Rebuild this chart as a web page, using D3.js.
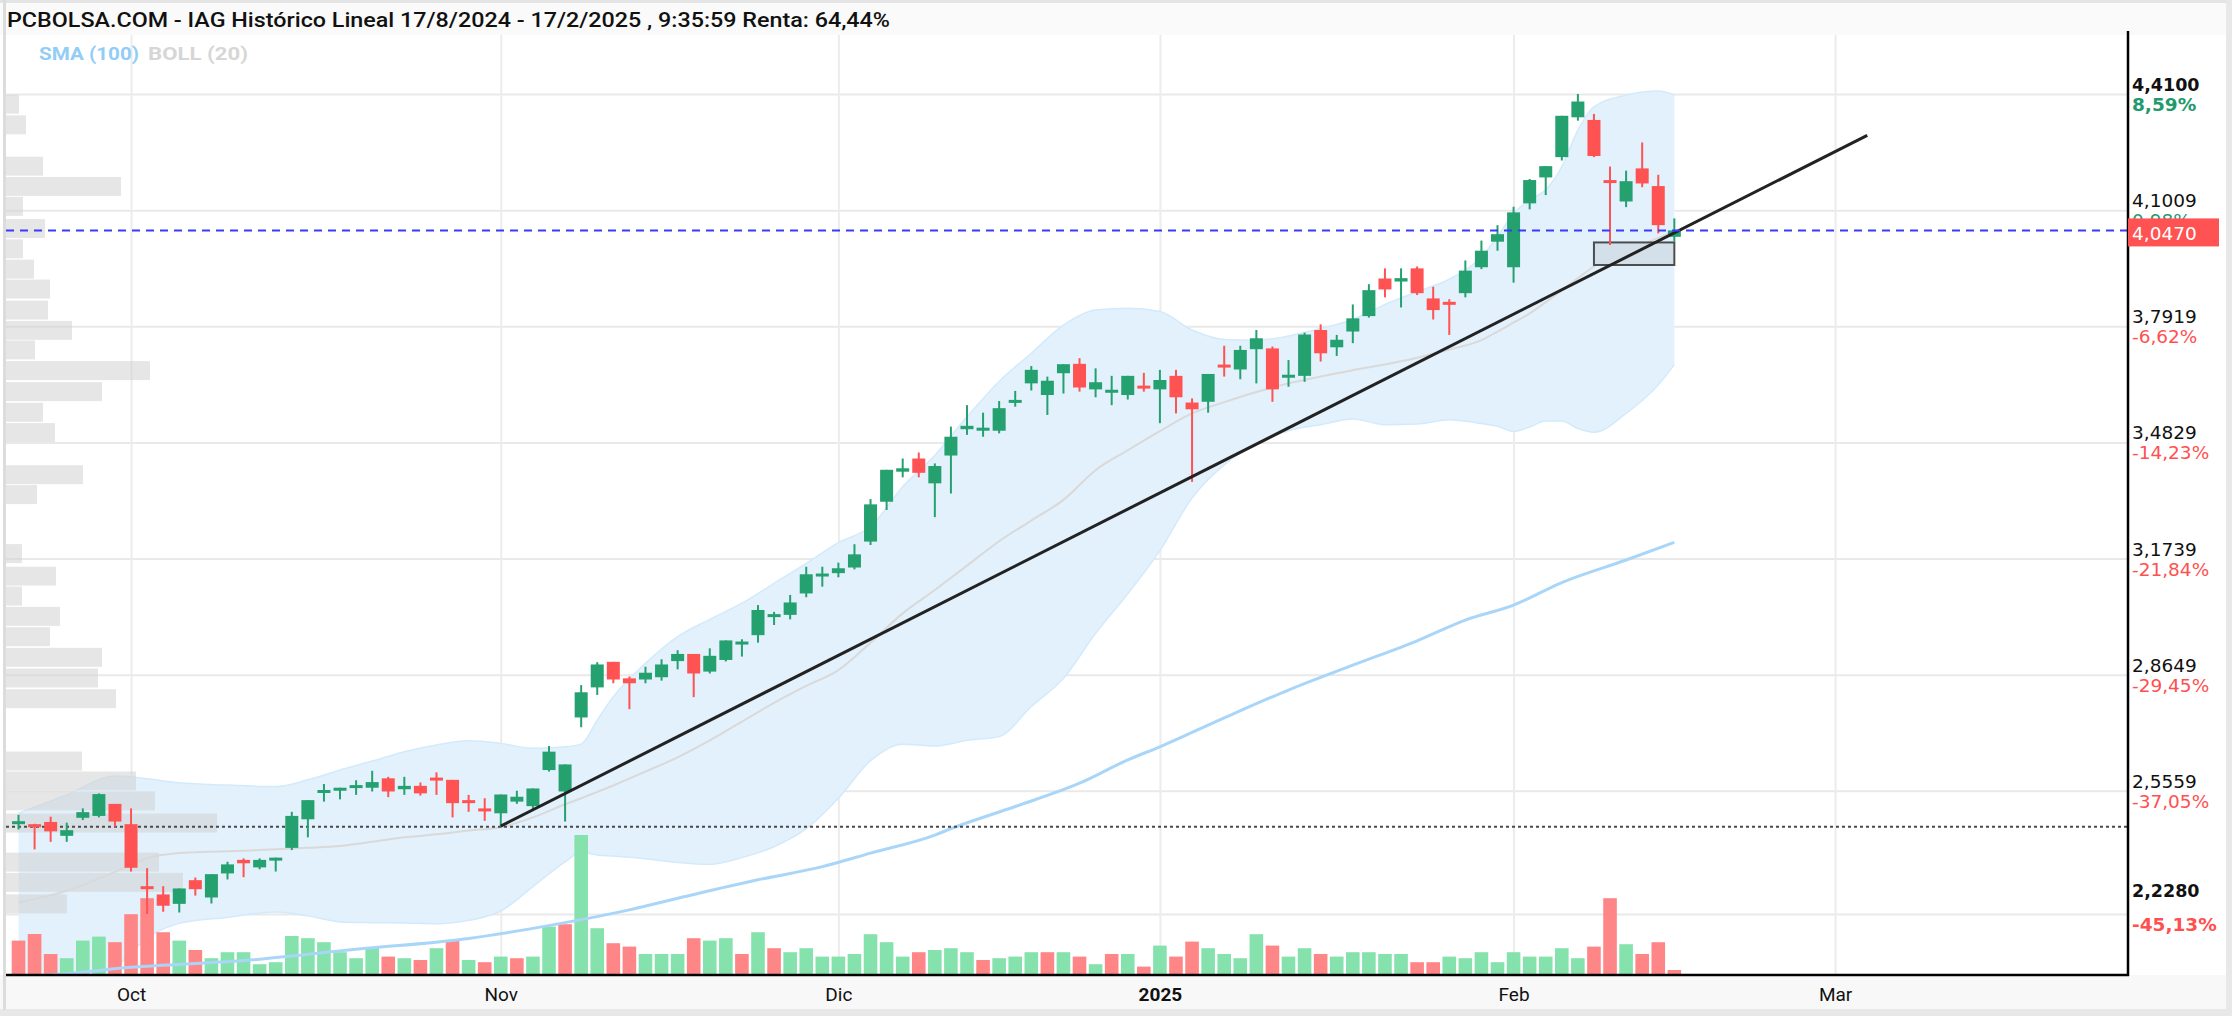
<!DOCTYPE html>
<html>
<head>
<meta charset="utf-8">
<script src="https://cdn.jsdelivr.net/npm/d3@7"></script>
<style>
  body { margin: 0; background: #fff; }
  svg { display: block; }
</style>
</head>
<body>
<div id="chart"></div>
<script>
// trading sessions shown on the chart (one candle each)
var dates = [
  "2024-09-20","2024-09-23","2024-09-24","2024-09-25","2024-09-26","2024-09-27","2024-09-30",
  "2024-10-01","2024-10-02","2024-10-03","2024-10-04","2024-10-07","2024-10-08","2024-10-09","2024-10-10","2024-10-11",
  "2024-10-14","2024-10-15","2024-10-16","2024-10-17","2024-10-18","2024-10-21","2024-10-22","2024-10-23","2024-10-24",
  "2024-10-25","2024-10-28","2024-10-29","2024-10-30","2024-10-31",
  "2024-11-01","2024-11-04","2024-11-05","2024-11-06","2024-11-07","2024-11-08","2024-11-11","2024-11-12","2024-11-13",
  "2024-11-14","2024-11-15","2024-11-18","2024-11-19","2024-11-20","2024-11-21","2024-11-22","2024-11-25","2024-11-26",
  "2024-11-27","2024-11-28","2024-11-29",
  "2024-12-02","2024-12-03","2024-12-04","2024-12-05","2024-12-06","2024-12-09","2024-12-10","2024-12-11","2024-12-12",
  "2024-12-13","2024-12-16","2024-12-17","2024-12-18","2024-12-19","2024-12-20","2024-12-23","2024-12-24","2024-12-27",
  "2024-12-30","2024-12-31",
  "2025-01-02","2025-01-03","2025-01-06","2025-01-07","2025-01-08","2025-01-09","2025-01-10","2025-01-13","2025-01-14",
  "2025-01-15","2025-01-16","2025-01-17","2025-01-20","2025-01-21","2025-01-22","2025-01-23","2025-01-24","2025-01-27",
  "2025-01-28","2025-01-29","2025-01-30","2025-01-31",
  "2025-02-03","2025-02-04","2025-02-05","2025-02-06","2025-02-07","2025-02-10","2025-02-11","2025-02-12","2025-02-13",
  "2025-02-14","2025-02-17"
];

var open = [2.470,2.467,2.473,2.436,2.484,2.489,2.521,2.467,2.302,2.280,2.255,2.318,2.272,2.336,2.372,2.352,2.374,2.404,2.480,2.554,
  2.560,2.565,2.564,2.589,2.560,2.569,2.591,2.585,2.531,2.509,2.496,2.527,2.515,2.611,2.554,2.751,2.831,2.899,2.855,2.852,
  2.858,2.901,2.920,2.873,2.904,2.949,2.970,3.019,3.024,3.081,3.129,3.135,3.150,3.219,3.325,3.405,3.440,3.374,3.448,3.518,
  3.518,3.514,3.590,3.640,3.609,3.667,3.692,3.624,3.620,3.609,3.634,3.624,3.660,3.589,3.591,3.690,3.677,3.731,3.733,3.660,
  3.660,3.782,3.736,3.778,3.819,3.919,3.911,3.946,3.866,3.857,3.880,3.949,4.017,3.949,4.119,4.188,4.242,4.348,4.341,4.181,
  4.124,4.212,4.165,4.030];
var high = [2.492,2.468,2.487,2.471,2.509,2.549,2.521,2.509,2.350,2.302,2.296,2.325,2.334,2.367,2.376,2.376,2.378,2.500,2.531,2.574,
  2.564,2.584,2.609,2.593,2.593,2.578,2.605,2.585,2.545,2.536,2.546,2.556,2.562,2.675,2.626,2.837,2.898,2.899,2.860,2.886,
  2.906,2.930,2.920,2.935,2.956,2.959,3.050,3.032,3.077,3.152,3.152,3.163,3.212,3.332,3.410,3.440,3.456,3.427,3.525,3.582,
  3.562,3.593,3.620,3.686,3.658,3.691,3.707,3.680,3.660,3.660,3.668,3.676,3.676,3.600,3.665,3.740,3.740,3.782,3.738,3.702,
  3.775,3.797,3.769,3.850,3.904,3.946,3.946,3.951,3.897,3.864,3.967,4.020,4.061,4.110,4.184,4.218,4.352,4.410,4.357,4.217,
  4.206,4.281,4.195,4.079];
var low = [2.453,2.400,2.420,2.420,2.478,2.485,2.460,2.341,2.228,2.234,2.232,2.277,2.256,2.320,2.326,2.347,2.341,2.398,2.432,2.527,
  2.533,2.545,2.554,2.539,2.545,2.543,2.545,2.485,2.500,2.476,2.461,2.521,2.507,2.607,2.474,2.725,2.811,2.842,2.773,2.842,
  2.849,2.879,2.805,2.868,2.900,2.913,2.950,2.997,3.012,3.071,3.099,3.124,3.145,3.210,3.303,3.390,3.390,3.284,3.347,3.503,
  3.498,3.507,3.578,3.621,3.556,3.613,3.618,3.603,3.582,3.597,3.618,3.534,3.560,3.378,3.562,3.658,3.651,3.640,3.591,3.631,
  3.644,3.698,3.713,3.747,3.815,3.869,3.842,3.875,3.810,3.769,3.869,3.944,3.993,3.908,4.103,4.141,4.233,4.339,4.242,4.008,
  4.109,4.162,4.039,4.017];
var close = [2.475,2.459,2.448,2.451,2.499,2.547,2.474,2.351,2.294,2.250,2.296,2.294,2.334,2.360,2.363,2.372,2.378,2.489,2.531,2.558,
  2.564,2.571,2.579,2.554,2.569,2.549,2.587,2.523,2.524,2.503,2.546,2.540,2.562,2.660,2.626,2.818,2.892,2.852,2.842,2.870,
  2.892,2.920,2.868,2.915,2.956,2.953,3.037,3.026,3.057,3.132,3.134,3.148,3.185,3.318,3.410,3.414,3.402,3.420,3.498,3.527,
  3.522,3.574,3.596,3.676,3.647,3.691,3.629,3.643,3.623,3.660,3.629,3.649,3.603,3.571,3.665,3.688,3.729,3.760,3.624,3.663,
  3.770,3.720,3.756,3.813,3.888,3.890,3.920,3.880,3.835,3.853,3.940,3.993,4.037,4.095,4.181,4.218,4.352,4.390,4.245,4.174,
  4.178,4.172,4.061,4.047];
var closeBefore = 2.49; // close of the session before the first candle

// volume, millions of shares
var volume = [17.2,20.5,10.5,8.4,17.2,19.2,16.4,30.4,38.4,21.4,17.2,12.5,8.4,11.4,11.4,5.4,6.4,19.5,18.4,16.4,
  11.4,8.4,13.9,9.2,8.4,7.5,13.4,17.2,7.5,6.4,9.2,8.4,9.2,24.2,25.4,70.0,23.4,15.9,14.2,10.5,
  10.5,10.5,18.4,17.2,18.4,10.5,21.4,13.4,11.4,13.4,9.2,9.2,10.5,20.4,16.4,9.2,11.4,12.5,13.4,11.4,
  7.5,8.4,9.2,11.4,11.4,11.4,9.2,5.4,10.5,10.5,4.2,14.7,9.2,16.7,13.4,10.5,8.4,20.4,14.7,9.2,
  13.4,10.5,9.2,11.4,11.4,10.5,10.5,6.4,6.4,9.2,8.4,11.4,6.4,11.4,9.2,9.2,13.4,8.4,14.2,38.4,
  15.4,10.5,16.4,2.5];

// bollinger (20)
var bbIdx = [0,3,6,8,10,13,16,18,20,22,24,26,28,30,32,34,35,36,37,39,41,43,45,47,49,51,53,55,57,59,61,63,65,
  67,69,71,73,75,77,79,81,83,85,87,89,91,92,93,94,95,96,97,98,100,102,103];
var bbUpper = [2.496,2.545,2.595,2.588,2.577,2.571,2.567,2.585,2.611,2.635,2.660,2.678,2.689,2.682,2.669,2.673,2.680,2.744,
  2.806,2.895,2.966,3.012,3.055,3.108,3.161,3.216,3.259,3.365,3.449,3.551,3.645,3.720,3.795,3.835,3.840,3.831,3.782,
  3.757,3.755,3.766,3.786,3.810,3.850,3.884,3.917,3.977,4.030,4.092,4.128,4.155,4.217,4.314,4.376,4.407,4.418,4.407];
var bbLower = [2.020,2.035,2.085,2.164,2.203,2.219,2.233,2.223,2.207,2.205,2.204,2.202,2.211,2.236,2.301,2.367,2.392,2.385,
  2.382,2.375,2.365,2.360,2.378,2.407,2.455,2.536,2.636,2.680,2.675,2.690,2.700,2.780,2.855,2.975,3.080,3.195,3.335,
  3.423,3.479,3.514,3.530,3.545,3.530,3.532,3.543,3.533,3.526,3.512,3.524,3.540,3.540,3.520,3.510,3.560,3.636,3.690];
var bbMid = [2.258,2.290,2.340,2.376,2.390,2.395,2.400,2.404,2.409,2.420,2.432,2.440,2.450,2.459,2.485,2.520,2.536,2.553,
  2.570,2.607,2.645,2.690,2.740,2.790,2.835,2.877,2.950,3.028,3.090,3.155,3.220,3.275,3.330,3.409,3.462,3.513,3.560,
  3.590,3.617,3.640,3.658,3.675,3.690,3.708,3.730,3.755,3.778,3.802,3.826,3.856,3.888,3.920,3.951,3.990,4.027,4.044];

// SMA (100)
var smaIdx = [0,2,7,14,21,28,34,38,42,46,50,53,57,58,62,66,69,71,75,79,83,87,90,93,96,100,103];
var smaVal = [2.062,2.066,2.086,2.104,2.134,2.163,2.205,2.239,2.280,2.319,2.354,2.390,2.438,2.455,2.514,2.576,2.638,2.673,
  2.750,2.824,2.890,2.955,3.010,3.050,3.110,3.170,3.217];

// volume by price (left side histogram)
var vpPrice = [4.383,4.328,4.218,4.164,4.111,4.052,3.998,3.944,3.891,3.835,3.781,3.729,3.674,3.618,3.563,3.509,3.397,3.344,
  3.187,3.127,3.074,3.020,2.966,2.911,2.856,2.801,2.635,2.582,2.529,2.470,2.366,2.312,2.255];
var vpVolume = [6.5,10,18.5,57.5,8.5,19.5,8.5,14,22,21,33,14.5,72,48,18.5,24.5,38.5,15.5,
  8,25,8,27,22,48,46,55,38,65,74.5,105.5,76.5,88.5,30.5];

var yTicks = [4.41, 4.1009, 3.7919, 3.4829, 3.1739, 2.8649, 2.5559, 2.228];
var yTickLabels = ["4,4100","4,1009","3,7919","3,4829","3,1739","2,8649","2,5559","2,2280"];
var yPctLabels = ["8,59%","0,98%","-6,62%","-14,23%","-21,84%","-29,45%","-37,05%","-45,13%"];

var monthIdx = [7, 30, 51, 71, 93, 113];
var monthLabels = ["Oct", "Nov", "Dic", "2025", "Feb", "Mar"];

var lastPrice = 4.047;
var lastLabel = "4,0470";
var supportLevel = 2.46;
var trendIdx = [30, 115];
var trendPrice = [2.462, 4.30];
var boxIdx = [98, 103];
var boxPrice = [3.955, 4.015];

var titleText = "PCBOLSA.COM - IAG Histórico Lineal 17/8/2024 - 17/2/2025 , 9:35:59 Renta: 64,44%";
var legendLabels = ["SMA (100)", "BOLL (20)"];

var dimensions = {
  width: 2232,
  height: 1016,
  plot: { left: 6, right: 2128, top: 35, bottom: 975 }
};
var plot = dimensions.plot;

var colUp = "#25a06f", colDown = "#ff5252";
var volUp = "#80e0a8", volDown = "#ff8080";

var svg = d3.select("#chart")
  .append("svg")
  .attr("width", dimensions.width)
  .attr("height", dimensions.height)
  .style("font-family", "Roboto, 'DejaVu Sans', sans-serif");

// scales: x is trading-session index
var xScale = d3.scaleLinear().domain([-0.778, 131.22]).range([plot.left, plot.right]);
var yScale = d3.scaleLinear().domain([2.228, 4.41]).range([914, 94]);
var vScale = d3.scaleLinear().domain([0, 75]).range([plot.bottom, plot.bottom - 150]);
var vpScale = d3.scaleLinear().domain([0, 110]).range([0, 220]);

// frame
svg.append("rect").attr("x", 0).attr("y", 0).attr("width", dimensions.width).attr("height", dimensions.height).attr("fill", "#fff");
svg.append("rect").attr("x", 0).attr("y", 0).attr("width", dimensions.width).attr("height", plot.top).attr("fill", "#fafafa");
svg.append("rect").attr("x", 0).attr("y", 0).attr("width", dimensions.width).attr("height", 3).attr("fill", "#e4e4e4");
svg.append("rect").attr("x", 0).attr("y", plot.bottom).attr("width", dimensions.width).attr("height", dimensions.height - plot.bottom).attr("fill", "#f8f8f8");
svg.append("rect").attr("x", 0).attr("y", 1009).attr("width", dimensions.width).attr("height", 7).attr("fill", "#e8e8e8");
svg.append("rect").attr("x", 3).attr("y", 0).attr("width", 3).attr("height", 1010).attr("fill", "#dcdcdc");
svg.append("rect").attr("x", 2226).attr("y", 0).attr("width", 6).attr("height", dimensions.height).attr("fill", "#e8e8e8");

svg.append("defs").append("clipPath").attr("id", "clip")
  .append("rect")
  .attr("x", plot.left).attr("y", plot.top)
  .attr("width", plot.right - plot.left).attr("height", plot.bottom - plot.top);

// gridlines
var grid = svg.append("g");
grid.append("g")
  .attr("transform", `translate(${plot.right},0)`)
  .call(d3.axisRight(yScale).tickValues(yTicks).tickSize(-(plot.right - plot.left)).tickFormat(""))
  .call(g => g.select(".domain").remove())
  .call(g => g.selectAll("line").attr("stroke", "#e9e9e9").attr("stroke-width", 2));
grid.append("g")
  .attr("transform", `translate(0,${plot.bottom})`)
  .call(d3.axisBottom(xScale).tickValues(monthIdx).tickSize(-(plot.bottom - plot.top)).tickFormat(""))
  .call(g => g.select(".domain").remove())
  .call(g => g.selectAll("line").attr("stroke", "#ececec").attr("stroke-width", 2));

var chart = svg.append("g").attr("clip-path", "url(#clip)");

// bollinger band
var bb = bbIdx.map((d, i) => ({ i: d, up: bbUpper[i], lo: bbLower[i], mid: bbMid[i] }));
chart.append("path")
  .datum(bb)
  .attr("d", d3.area().curve(d3.curveMonotoneX).x(d => xScale(d.i)).y0(d => yScale(d.lo)).y1(d => yScale(d.up)))
  .attr("fill", "#e2f1fc");
chart.append("path")
  .datum(bb)
  .attr("d", d3.line().curve(d3.curveMonotoneX).x(d => xScale(d.i)).y(d => yScale(d.up)))
  .attr("fill", "none").attr("stroke", "#d3eafb").attr("stroke-width", 1.5);
chart.append("path")
  .datum(bb)
  .attr("d", d3.line().curve(d3.curveMonotoneX).x(d => xScale(d.i)).y(d => yScale(d.lo)))
  .attr("fill", "none").attr("stroke", "#d3eafb").attr("stroke-width", 1.5);

// volume profile
var vpBin = 0.0505;
chart.selectAll("rect.vp")
  .data(vpPrice)
  .enter()
  .append("rect")
  .attr("class", "vp")
  .attr("x", plot.left)
  .attr("y", d => yScale(d + vpBin / 2))
  .attr("width", (d, i) => vpScale(vpVolume[i]))
  .attr("height", d => yScale(d - vpBin / 2) - yScale(d + vpBin / 2))
  .attr("fill", "#d2d2d2")
  .attr("fill-opacity", 0.55);

// volume bars, coloured by change from previous close
chart.selectAll("rect.vol")
  .data(volume)
  .enter()
  .append("rect")
  .attr("class", "vol")
  .attr("x", (d, i) => xScale(i) - 6.8)
  .attr("y", d => vScale(d))
  .attr("width", 13.6)
  .attr("height", d => vScale(0) - vScale(d))
  .attr("fill", (d, i) => close[i] >= (i ? close[i - 1] : closeBefore) ? volUp : volDown)
  .attr("fill-opacity", 0.95);

// SMA 100 and middle band
chart.append("path")
  .datum(smaIdx)
  .attr("d", d3.line().curve(d3.curveMonotoneX).x(d => xScale(d)).y((d, i) => yScale(smaVal[i])))
  .attr("fill", "none").attr("stroke", "#a9d6f8").attr("stroke-width", 3);
chart.append("path")
  .datum(bb)
  .attr("d", d3.line().curve(d3.curveMonotoneX).x(d => xScale(d.i)).y(d => yScale(d.mid)))
  .attr("fill", "none").attr("stroke", "#d9d9d9").attr("stroke-width", 2);

// support line
chart.append("line")
  .attr("x1", plot.left).attr("x2", plot.right)
  .attr("y1", yScale(supportLevel)).attr("y2", yScale(supportLevel))
  .attr("stroke", "#4a4a4a").attr("stroke-width", 2).attr("stroke-dasharray", "3,3");

// box
chart.append("rect")
  .attr("x", xScale(boxIdx[0])).attr("y", yScale(boxPrice[1]))
  .attr("width", xScale(boxIdx[1]) - xScale(boxIdx[0]))
  .attr("height", yScale(boxPrice[0]) - yScale(boxPrice[1]))
  .attr("fill", "#d3dee7").attr("fill-opacity", 0.9)
  .attr("stroke", "#4d4d4d").attr("stroke-width", 2);

// candles
var candles = chart.selectAll("g.candle")
  .data(close)
  .enter()
  .append("g")
  .attr("class", "candle")
  .attr("fill", (d, i) => d >= open[i] ? colUp : colDown)
  .attr("stroke", (d, i) => d >= open[i] ? colUp : colDown);
candles.append("line")
  .attr("x1", (d, i) => xScale(i)).attr("x2", (d, i) => xScale(i))
  .attr("y1", (d, i) => yScale(high[i])).attr("y2", (d, i) => yScale(low[i]))
  .attr("stroke-width", 2);
candles.append("rect")
  .attr("x", (d, i) => xScale(i) - 6.5)
  .attr("width", 13)
  .attr("y", (d, i) => yScale(Math.max(d, open[i])))
  .attr("height", (d, i) => Math.max(3, Math.abs(yScale(d) - yScale(open[i]))))
  .attr("stroke", "none");

// trend line
chart.append("line")
  .attr("x1", xScale(trendIdx[0])).attr("y1", yScale(trendPrice[0]))
  .attr("x2", xScale(trendIdx[1])).attr("y2", yScale(trendPrice[1]))
  .attr("stroke", "#222").attr("stroke-width", 3);

// last price line
chart.append("line")
  .attr("x1", plot.left).attr("x2", plot.right)
  .attr("y1", yScale(lastPrice)).attr("y2", yScale(lastPrice))
  .attr("stroke", "#3a3aff").attr("stroke-width", 2).attr("stroke-dasharray", "8,6");

// axes lines
svg.append("line").attr("x1", plot.left).attr("x2", plot.right + 1).attr("y1", plot.bottom).attr("y2", plot.bottom)
  .attr("stroke", "#000").attr("stroke-width", 2.5);
svg.append("line").attr("x1", plot.right).attr("x2", plot.right).attr("y1", 31).attr("y2", plot.bottom + 1)
  .attr("stroke", "#000").attr("stroke-width", 2.5);

// x labels
var xAxis = svg.append("g")
  .attr("transform", `translate(0,${plot.bottom})`)
  .call(d3.axisBottom(xScale).tickValues(monthIdx).tickSize(0).tickPadding(13).tickFormat((d, i) => monthLabels[i]))
  .call(g => g.select(".domain").remove());
xAxis.selectAll("text")
  .attr("class", "axis_text")
  .style("fill", "#111")
  .style("font-family", "Roboto, sans-serif")
  .style("font-size", "19px")
  .style("font-weight", (d, i) => monthLabels[i] === "2025" ? "bold" : "normal");

// y labels: price and % from previous close
var yLab = svg.append("g").style("font-family", "'DejaVu Sans', sans-serif");
yTicks.forEach(function(t, i) {
  var edge = (i === 0 || i === yTicks.length - 1);
  var up = (i === yTicks.length - 1) ? 17 : 3;
  yLab.append("text")
    .attr("x", 2132).attr("y", yScale(t) - up)
    .style("font-size", edge ? "17.5px" : "18.5px")
    .style("font-weight", edge ? "bold" : "normal")
    .style("fill", "#111")
    .text(yTickLabels[i]);
  yLab.append("text")
    .attr("x", 2132).attr("y", yScale(t) + 17)
    .style("font-size", "18.5px")
    .style("font-weight", edge ? "bold" : "normal")
    .style("fill", yPctLabels[i].charAt(0) === "-" ? "#ff5050" : "#1f9a6c")
    .text(yPctLabels[i]);
});
yLab.append("rect")
  .attr("x", plot.right).attr("y", yScale(lastPrice) - 12)
  .attr("width", 91).attr("height", 28)
  .attr("fill", "#ff5252");
yLab.append("text")
  .attr("x", 2132).attr("y", yScale(lastPrice) + 10)
  .style("font-size", "18.5px")
  .style("fill", "#fff")
  .text(lastLabel);

// title and legend
svg.append("text")
  .attr("x", 7).attr("y", 27)
  .attr("textLength", 883).attr("lengthAdjust", "spacingAndGlyphs")
  .style("font-family", "Roboto, sans-serif")
  .style("font-size", "20px")
  .style("font-weight", 500)
  .style("fill", "#111")
  .text(titleText);
svg.selectAll("text.legend")
  .data(legendLabels)
  .enter()
  .append("text")
  .attr("class", "legend")
  .attr("x", (d, i) => i ? 148 : 39)
  .attr("y", 60)
  .attr("textLength", 100).attr("lengthAdjust", "spacingAndGlyphs")
  .style("font-family", "Roboto, sans-serif")
  .style("font-size", "19px")
  .style("font-weight", "bold")
  .style("fill", (d, i) => i ? "#d6d6d6" : "#92cdf6")
  .text(d => d);
</script>
</body>
</html>
